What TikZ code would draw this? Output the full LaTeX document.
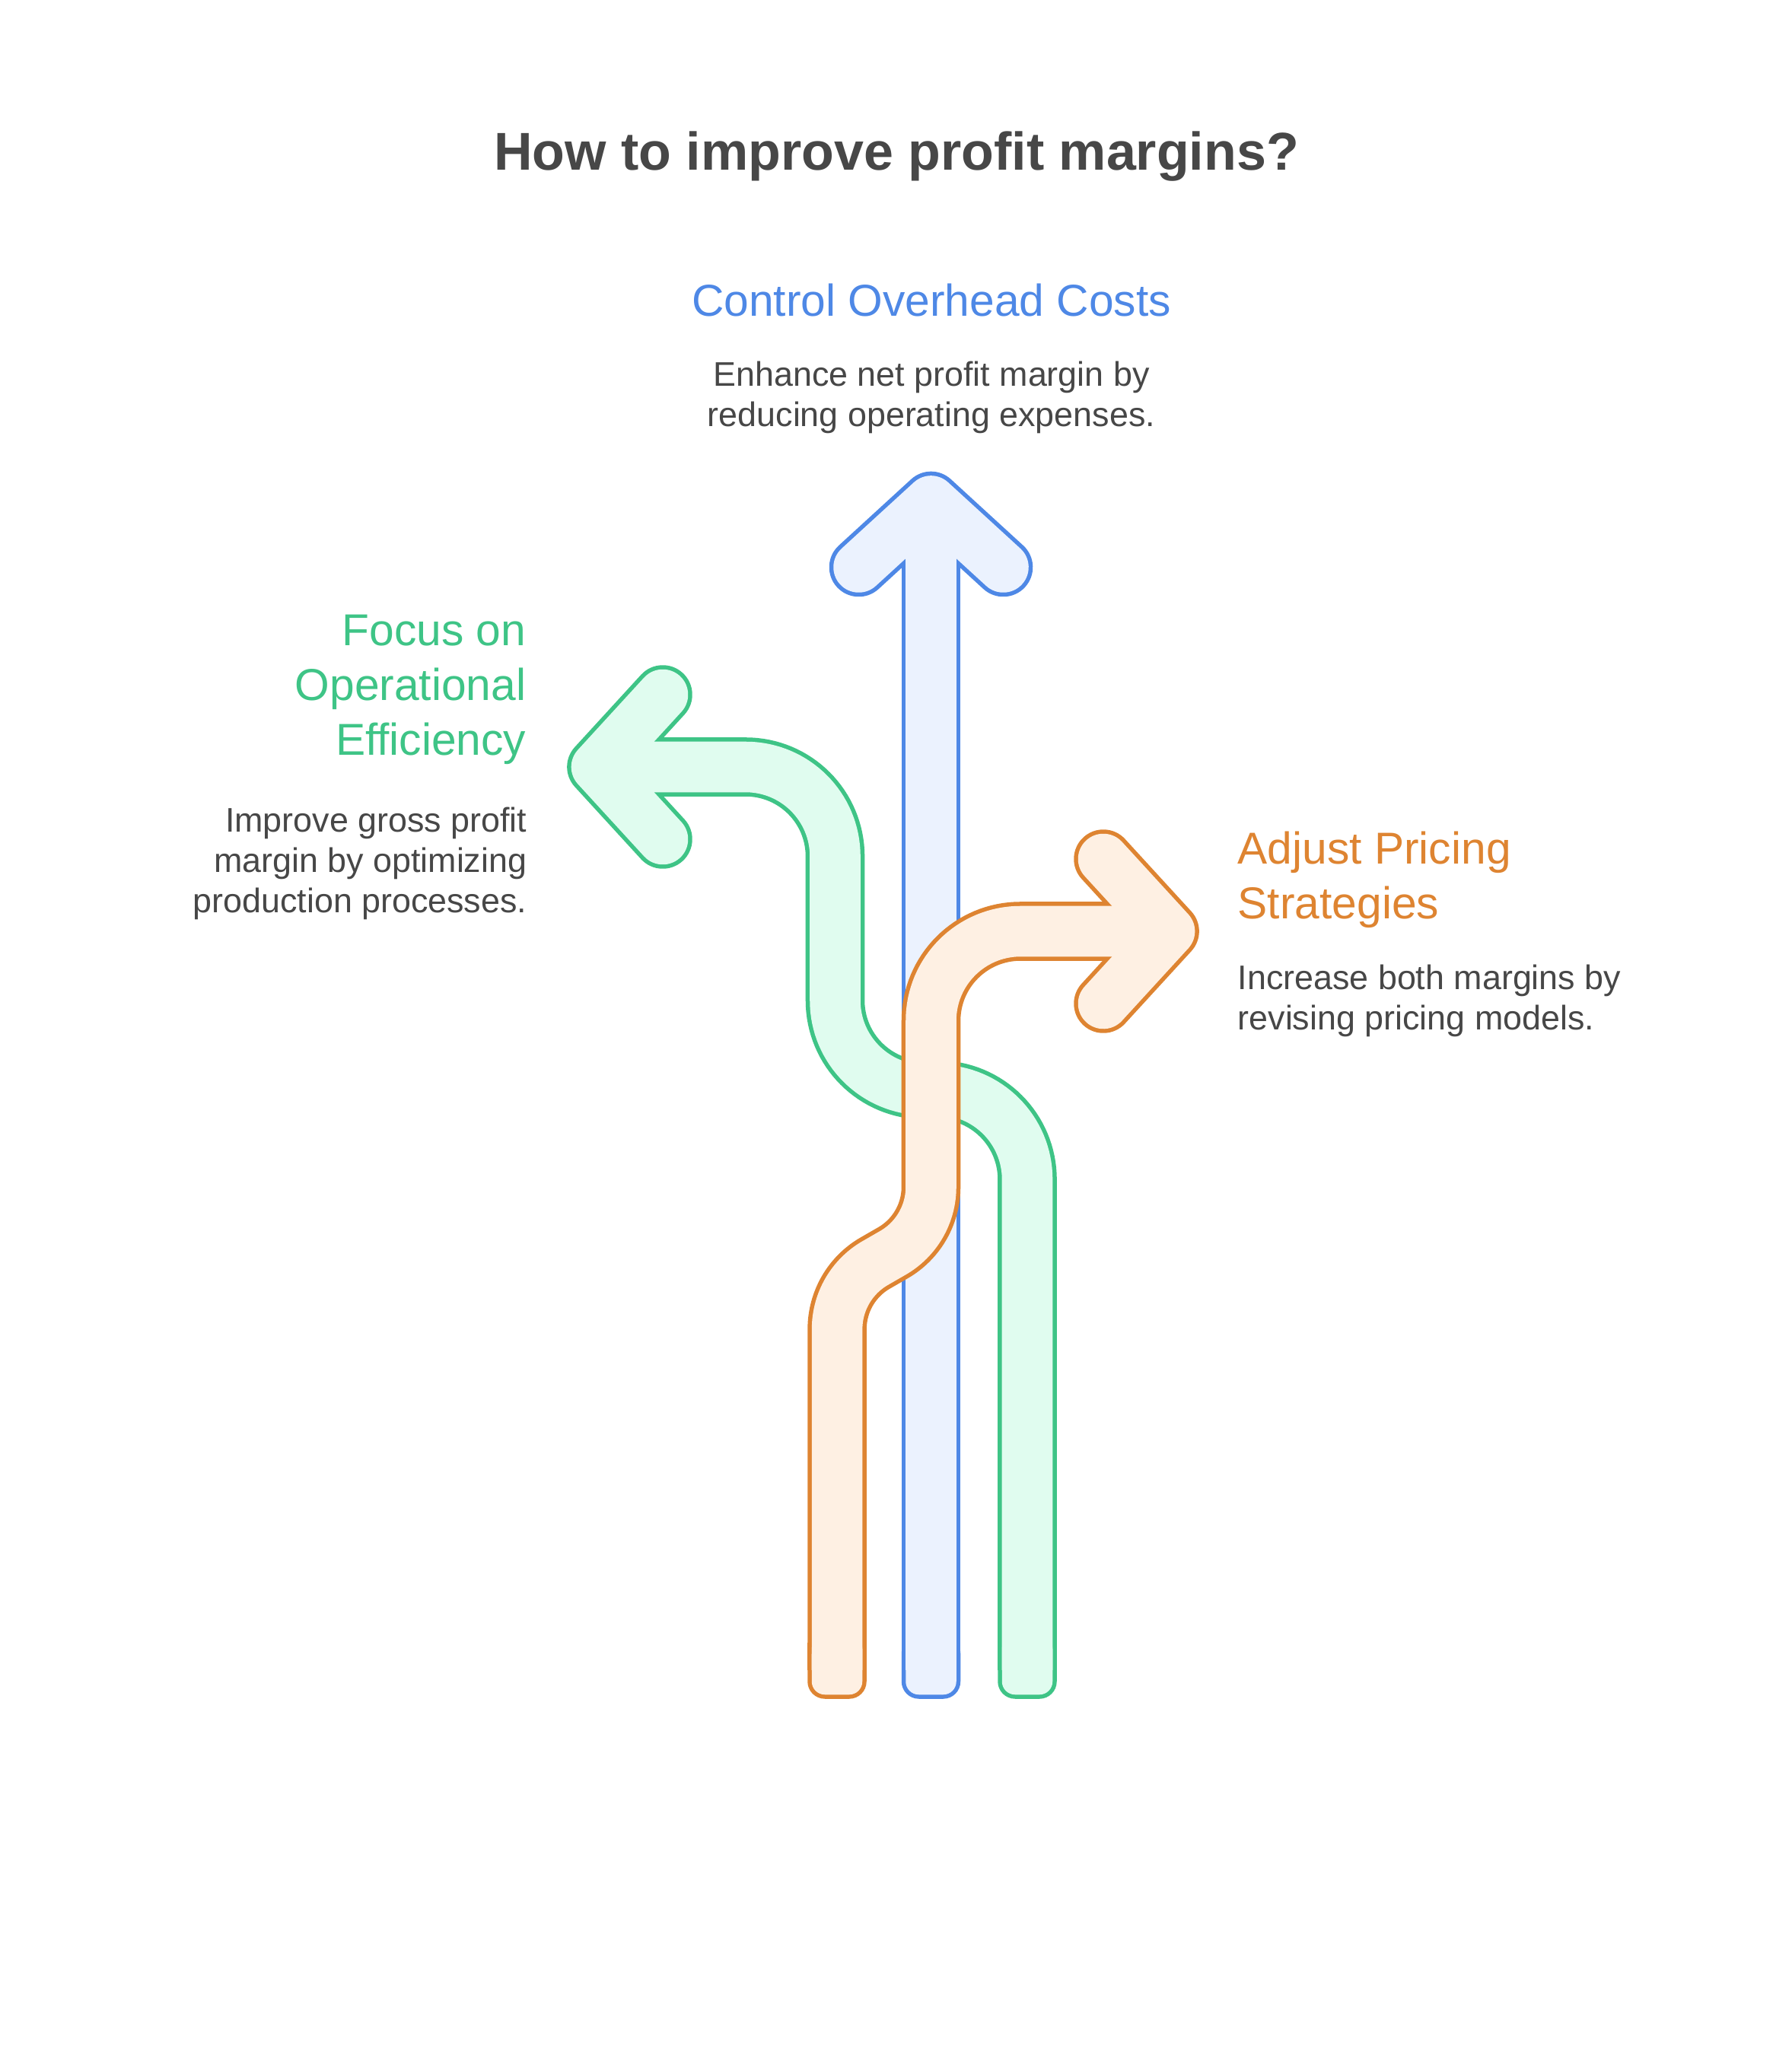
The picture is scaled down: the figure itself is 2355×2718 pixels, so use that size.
\documentclass[tikz,border=0pt]{standalone}
\usepackage{fontspec}
\setmainfont{Liberation Sans}
\definecolor{bstroke}{HTML}{4E88E6}
\definecolor{bfill}{HTML}{EBF2FE}
\definecolor{gstroke}{HTML}{3EC486}
\definecolor{gfill}{HTML}{E0FCEF}
\definecolor{ostroke}{HTML}{DE8431}
\definecolor{ofill}{HTML}{FEF0E3}
\definecolor{txt}{HTML}{474747}
\newcommand{\linesR}[1]{\begin{tabular}[t]{@{}r@{}}#1\end{tabular}}
\newcommand{\linesL}[1]{\begin{tabular}[t]{@{}l@{}}#1\end{tabular}}
\newcommand{\linesC}[1]{\begin{tabular}[t]{@{}c@{}}#1\end{tabular}}
\tikzset{
  titlestyle/.style={inner sep=0pt, text=txt, font=\fontsize{19.9}{24}\selectfont\bfseries},
  headstyle/.style={inner sep=0pt, font=\fontsize{16.7}{20.5}\selectfont},
  bodystyle/.style={inner sep=0pt, text=txt, font=\fontsize{12.75}{15.2}\selectfont},
  band/.style={line width=#1},
  headband/.style={line width=#1, line cap=round, line join=round}
}
\begin{document}
\begin{tikzpicture}[x=0.01cm, y=-0.01cm]
\useasboundingbox (0,0) rectangle (2355,2718);
\fill[white] (0,0) rectangle (2355,2718);

% blue arrow (up)
\foreach \w/\c/\o/\b/\r in {7.75mm/bstroke/38.75/2232.75/2.275mm, 6.65mm/bfill/33.25/2227.25/1.725mm}{
  \draw[headband=\w, \c] (1128.5,745.5) -- (1223.5,658.5) -- (1318.5,745.5);
  \draw[band=\w, \c] (1223.5,690) -- (1223.5,2195);
  \fill[\c, rounded corners=\r] (1223.5-\o,2150) rectangle (1223.5+\o,\b);
}

% green arrow (left)
\foreach \w/\c/\o/\b/\r in {7.75mm/gstroke/38.75/2232.75/2.275mm, 6.65mm/gfill/33.25/2227.25/1.725mm}{
  \draw[headband=\w, \c] (871,913) -- (784,1008) -- (871,1103);
  \draw[band=\w, \c] (804,1008) -- (980,1008)
     arc[start angle=270, end angle=360, radius=117.5] -- (1097.5,1315)
     arc[start angle=180, end angle=90, radius=117.5] -- (1232.5,1432.5)
     arc[start angle=270, end angle=360, radius=117.5] -- (1350,2195);
  \fill[\c, rounded corners=\r] (1350-\o,2150) rectangle (1350+\o,\b);
}

% orange arrow (right)
\foreach \w/\c/\o/\b/\r in {7.75mm/ostroke/38.75/2232.75/2.275mm, 6.65mm/ofill/33.25/2227.25/1.725mm}{
  \draw[headband=\w, \c] (1450,1129) -- (1537,1224) -- (1450,1319);
  \draw[band=\w, \c] (1517,1224) -- (1341,1224)
     arc[start angle=270, end angle=180, radius=117.5] -- (1223.5,1560)
     arc[start angle=0, end angle=60, radius=100] -- ++(-23.4,13.5)
     arc[start angle=240, end angle=180, radius=100] -- (1100,2195);
  \fill[\c, rounded corners=\r] (1100-\o,2150) rectangle (1100+\o,\b);
}

% texts
\node[titlestyle, anchor=base] (title) at (1178,224) {How to improve profit margins?};
\node[headstyle, text=bstroke, anchor=base] (h1) at (1224,415) {Control Overhead Costs};
\node[bodystyle, anchor=base] (d1) at (1224,507) {\linesC{Enhance net profit margin by\\reducing operating expenses.}};
\node[headstyle, text=gstroke, anchor=base east] (h2) at (692,848) {\linesR{Focus on\\Operational\\Efficiency}};
\node[bodystyle, anchor=base east] (d2) at (693,1093) {\linesR{Improve gross profit\\margin by optimizing\\production processes.}};
\node[headstyle, text=ostroke, anchor=base west] (h3) at (1626,1135) {\linesL{Adjust Pricing\\Strategies}};
\node[bodystyle, anchor=base west] (d3) at (1626,1300) {\linesL{Increase both margins by\\revising pricing models.}};
\end{tikzpicture}
\end{document}
